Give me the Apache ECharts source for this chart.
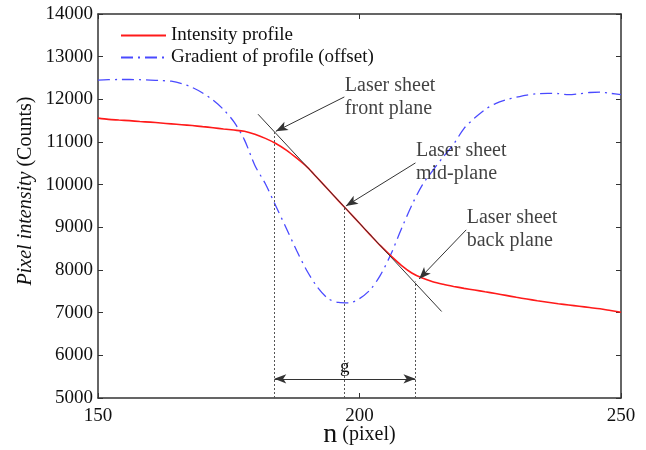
<!DOCTYPE html>
<html>
<head>
<meta charset="utf-8">
<script src="https://cdn.jsdelivr.net/npm/echarts@6/dist/echarts.min.js"></script>
<style>
html,body{margin:0;padding:0;background:#fff;}
#chart{width:646px;height:450px;}
</style>
</head>
<body>
<div id="chart"></div>
<script>
// ---- data ----
const nPixels = [150,152,154,156,158,160,162,164,166,168,170,172,174,176,178,180,182,184,186,188,190,192,194,196,198,200,202,204,206,208,210,212,214,216,218,220,222,224,226,228,230,232,234,236,238,240,242,244,246,248,250];
const intensityCounts = [11560,11530,11515,11500,11480,11465,11445,11425,11405,11385,11360,11335,11305,11280,11250,11180,11085,10965,10810,10620,10410,10150,9885,9620,9360,9095,8830,8570,8330,8110,7930,7810,7725,7665,7615,7570,7530,7490,7450,7405,7360,7320,7280,7245,7210,7180,7150,7120,7090,7050,7010];
const gradientOffsetCounts = [12450,12460,12465,12465,12460,12450,12440,12425,12370,12280,12150,11980,11760,11470,11050,10450,10020,9500,8980,8450,7970,7590,7330,7240,7230,7330,7530,7880,8370,8960,9520,9990,10330,10650,10950,11320,11560,11760,11900,11990,12050,12100,12130,12140,12135,12110,12130,12160,12170,12140,12110];

const tangentN = [180.6, 215.7];
const tangentCounts = [11651, 7028];

const planeN = [183.7, 197.1, 210.7];
const planeTopCounts = [11243, 9478, 7731];
const gArrowCounts = 5450;

const annotationTexts = ['Laser sheet\nfront plane', 'Laser sheet\nmid-plane', 'Laser sheet\nback plane'];
const annotationN = [197.2, 210.8, 220.5];
const annotationCounts = [12583, 11061, 9492];
const arrowStartN = [197.1, 210.7, 220.4];
const arrowStartCounts = [12056, 10510, 8941];
const arrowEndN = [184.0, 197.4, 211.4];
const arrowEndCounts = [11250, 9500, 7790];

const xTicks = [150, 200, 250];
const yTicks = [5000, 6000, 7000, 8000, 9000, 10000, 11000, 12000, 13000, 14000];

// ---- build ----
const FONT = "'Liberation Serif', 'Times New Roman', serif";
const axisColor = '#333';

const intensityData = nPixels.map((n, i) => [n, intensityCounts[i]]);
const gradientData = nPixels.map((n, i) => [n, gradientOffsetCounts[i]]);
const tangentData = tangentN.map((n, i) => [n, tangentCounts[i]]);

const markLines = [];
planeN.forEach((n, i) => {
  markLines.push([
    {coord: [n, yTicks[0]], symbol: 'none', lineStyle: {type: [2, 2], color: '#555', width: 1}},
    {coord: [n, planeTopCounts[i]], symbol: 'none'}
  ]);
});
arrowStartN.forEach((n, i) => {
  markLines.push([
    {coord: [n, arrowStartCounts[i]], symbol: 'none', lineStyle: {type: 'solid', color: '#333', width: 1}},
    {coord: [arrowEndN[i], arrowEndCounts[i]], symbol: 'arrow', symbolSize: [7, 12]}
  ]);
});
markLines.push([
  {coord: [planeN[0], gArrowCounts], symbol: 'arrow', symbolSize: [7, 12], lineStyle: {type: 'solid', color: '#333', width: 1},
   label: {show: true, formatter: 'g', position: 'middle', fontFamily: FONT, fontSize: 19, color: '#111', distance: 2}},
  {coord: [planeN[2], gArrowCounts], symbol: 'arrow', symbolSize: [7, 12]}
]);

const annotationData = annotationTexts.map((t, i) => ({value: [annotationN[i], annotationCounts[i]], text: t}));

const chart = echarts.init(document.getElementById('chart'), null, {renderer: 'canvas'});
chart.setOption({
  backgroundColor: '#fff',
  animation: false,
  textStyle: {fontFamily: FONT},
  grid: {left: 98, right: 25, top: 14, bottom: 52, containLabel: false, outerBoundsMode: 'none'},
  legend: {
    data: ['Intensity profile', 'Gradient of profile (offset)'],
    orient: 'vertical',
    left: 115, top: 20,
    itemWidth: 45, itemHeight: 12, itemGap: 1,
    itemStyle: {opacity: 0},
    textStyle: {fontFamily: FONT, fontSize: 19, color: '#111', lineHeight: 21},
    selectedMode: false
  },
  xAxis: [{
    type: 'value', min: xTicks[0], max: xTicks[xTicks.length - 1], interval: 50,
    position: 'bottom',
    axisLine: {show: true, lineStyle: {color: axisColor, width: 1.5}},
    axisTick: {show: true, inside: true, length: 5, lineStyle: {color: axisColor}},
    axisLabel: {fontFamily: FONT, fontSize: 19, color: '#111', margin: 9, formatter: v => String(v)},
    splitLine: {show: false},
    name: '{n|n} (pixel)', nameLocation: 'middle', nameGap: 23, nameMoveOverlap: false,
    nameTextStyle: {fontFamily: FONT, fontSize: 20, color: '#111',
      rich: {n: {fontFamily: FONT, fontSize: 28, color: '#111'}}}
  }, {
    type: 'value', min: xTicks[0], max: xTicks[xTicks.length - 1], interval: 50,
    position: 'top',
    axisLine: {show: true, lineStyle: {color: axisColor, width: 1.5}},
    axisTick: {show: true, inside: true, length: 5, lineStyle: {color: axisColor}},
    axisLabel: {show: false}, splitLine: {show: false}
  }],
  yAxis: [{
    type: 'value', min: yTicks[0], max: yTicks[yTicks.length - 1], interval: 1000,
    position: 'left',
    axisLine: {show: true, lineStyle: {color: axisColor, width: 1.5}},
    axisTick: {show: true, inside: true, length: 5, lineStyle: {color: axisColor}},
    axisLabel: {fontFamily: FONT, fontSize: 19, color: '#111', margin: 5, formatter: v => String(v)},
    splitLine: {show: false},
    name: '{it|Pixel intensity} (Counts)', nameLocation: 'middle', nameGap: 62, nameMoveOverlap: false,
    nameTextStyle: {fontFamily: FONT, fontSize: 20, color: '#111', padding: [0, 0, 0, 30],
      rich: {it: {fontFamily: FONT, fontSize: 20, fontStyle: 'italic', color: '#111'}}}
  }, {
    type: 'value', min: yTicks[0], max: yTicks[yTicks.length - 1], interval: 1000,
    position: 'right',
    axisLine: {show: true, lineStyle: {color: axisColor, width: 1.5}},
    axisTick: {show: true, inside: true, length: 5, lineStyle: {color: axisColor}},
    axisLabel: {show: false}, splitLine: {show: false}
  }],
  series: [{
    name: 'Intensity profile', type: 'line', data: intensityData,
    showSymbol: false, symbol: 'none', smooth: 0.3, z: 3,
    lineStyle: {color: '#ff1a1a', width: 1.6}, itemStyle: {color: '#ff1a1a'}
  }, {
    name: 'Gradient of profile (offset)', type: 'line', data: gradientData,
    showSymbol: false, symbol: 'none', smooth: 0.3, z: 2,
    lineStyle: {color: '#4a4aff', width: 1.3, type: [12, 5, 2, 5]}, itemStyle: {color: '#4a4aff'}
  }, {
    name: 'tangent', type: 'line', data: tangentData,
    showSymbol: false, symbol: 'none', z: 4,
    lineStyle: {color: '#333', width: 1},
    markLine: {silent: true, animation: false, label: {show: false}, data: markLines}
  }, {
    name: 'annotations', type: 'scatter', data: annotationData,
    symbolSize: 0, z: 5,
    label: {show: true, position: [0, 0], align: 'left', verticalAlign: 'top',
      formatter: p => p.data.text, fontFamily: FONT, fontSize: 20, lineHeight: 23, color: '#111'}
  }]
});
</script>
</body>
</html>
